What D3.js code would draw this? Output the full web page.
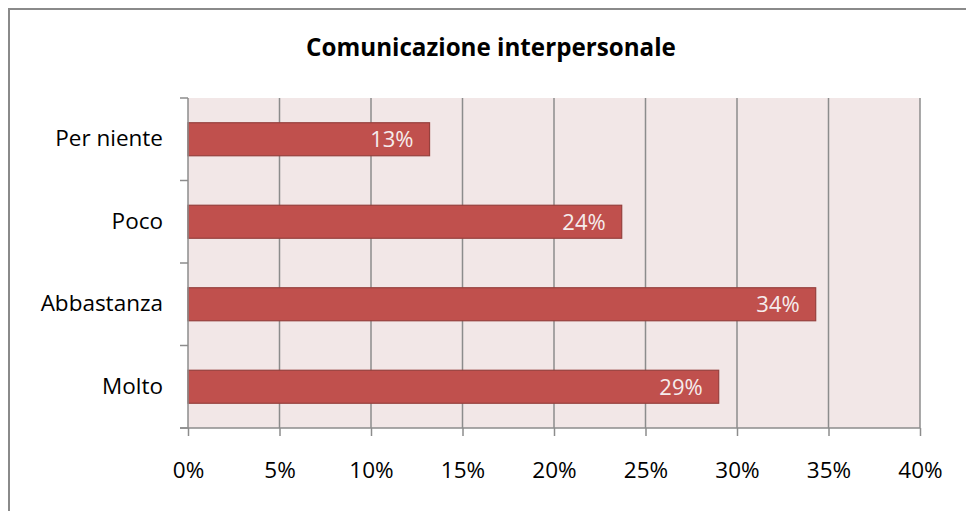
<!DOCTYPE html>
<html>
<head>
<meta charset="utf-8">
<script src="https://cdn.jsdelivr.net/npm/d3@7"></script>
<style>
  body { margin: 0; background: #fff; }
  svg text { font-family: "Open Sans", "Noto Sans", sans-serif; }
</style>
</head>
<body>
<div id="chart"></div>
<script>
var categories = ['Per niente', 'Poco', 'Abbastanza', 'Molto'];
var values = [0.132, 0.237, 0.343, 0.290];
var valueLabels = ['13%', '24%', '34%', '29%'];
var xTicks = [0, 0.05, 0.10, 0.15, 0.20, 0.25, 0.30, 0.35, 0.40];

var width = 966, height = 511;
var plot = { left: 188, right: 920, top: 98, bottom: 428 };
var fontFamily = '"Open Sans", "Noto Sans", sans-serif';

var svg = d3.select('#chart').append('svg')
  .attr('width', width)
  .attr('height', height);

// outer chart frame (left and top edges visible)
svg.append('path')
  .attr('d', 'M9,' + height + 'V9H' + width)
  .attr('fill', 'none')
  .attr('stroke', '#8a8a8a')
  .attr('stroke-width', 2);

svg.append('text')
  .attr('x', 491)
  .attr('y', 56)
  .attr('text-anchor', 'middle')
  .style('font-size', '24.2px')
  .style('font-weight', 'bold')
  .text('Comunicazione interpersonale');

var x = d3.scaleLinear().domain([0, 0.40]).range([plot.left, plot.right]);
var y = d3.scaleBand().domain(categories).range([plot.top, plot.bottom]).paddingInner(0.6).paddingOuter(0.3);
var yOuter = d3.scaleBand().domain(categories).range([plot.top, plot.bottom]);

svg.append('rect')
  .attr('x', plot.left)
  .attr('y', plot.top)
  .attr('width', plot.right - plot.left)
  .attr('height', plot.bottom - plot.top)
  .attr('fill', '#f2e7e7');

// vertical gridlines
svg.append('g')
  .selectAll('line')
  .data(xTicks.slice(1))
  .enter()
  .append('line')
  .attr('x1', d => x(d))
  .attr('x2', d => x(d))
  .attr('y1', plot.top)
  .attr('y2', plot.bottom)
  .attr('stroke', '#8c8c8c')
  .attr('stroke-width', 1.5);

// bars
svg.append('g')
  .selectAll('rect')
  .data(values)
  .enter()
  .append('rect')
  .attr('x', x(0))
  .attr('y', (d, i) => y(categories[i]))
  .attr('width', d => x(d) - x(0))
  .attr('height', y.bandwidth())
  .attr('fill', '#c0504d')
  .attr('stroke', '#96403d')
  .attr('stroke-width', 1.2);

svg.append('g')
  .selectAll('text')
  .data(values)
  .enter()
  .append('text')
  .attr('x', d => x(d) - 16)
  .attr('y', (d, i) => y(categories[i]) + y.bandwidth() / 2)
  .attr('dy', '0.36em')
  .attr('text-anchor', 'end')
  .attr('fill', '#f5ecec')
  .style('font-size', '22px')
  .text((d, i) => valueLabels[i]);

// x axis
var xAxis = d3.axisBottom(x)
  .tickValues(xTicks)
  .tickSize(8)
  .tickPadding(26)
  .tickFormat(d3.format('.0%'));
var gx = svg.append('g')
  .attr('transform', 'translate(0,' + plot.bottom + ')')
  .call(xAxis);
gx.select('.domain').attr('stroke', '#8c8c8c').attr('stroke-width', 1.5).attr('d', 'M' + (plot.left - 8) + ',0H' + plot.right);
gx.selectAll('.tick line').attr('stroke', '#8c8c8c').attr('stroke-width', 1.5);
gx.selectAll('.tick text').attr('fill', '#000').style('font-size', '22.5px').style('font-family', fontFamily);

// y axis
var yAxis = d3.axisLeft(y).tickSize(0).tickPadding(25);
var gy = svg.append('g')
  .attr('transform', 'translate(' + plot.left + ',0)')
  .call(yAxis);
gy.select('.domain').attr('stroke', '#8c8c8c').attr('stroke-width', 1.5).attr('d', 'M0,' + plot.top + 'V' + plot.bottom);
gy.selectAll('.tick text').attr('fill', '#000').style('font-size', '22.5px').style('font-family', fontFamily);

// y tick marks at category boundaries
gy.append('g')
  .selectAll('line')
  .data(categories.concat(['end']))
  .enter()
  .append('line')
  .attr('x1', -8)
  .attr('x2', 0)
  .attr('y1', (d, i) => i < categories.length ? yOuter(d) : plot.bottom)
  .attr('y2', (d, i) => i < categories.length ? yOuter(d) : plot.bottom)
  .attr('stroke', '#8c8c8c')
  .attr('stroke-width', 1.5);
</script>
</body>
</html>
